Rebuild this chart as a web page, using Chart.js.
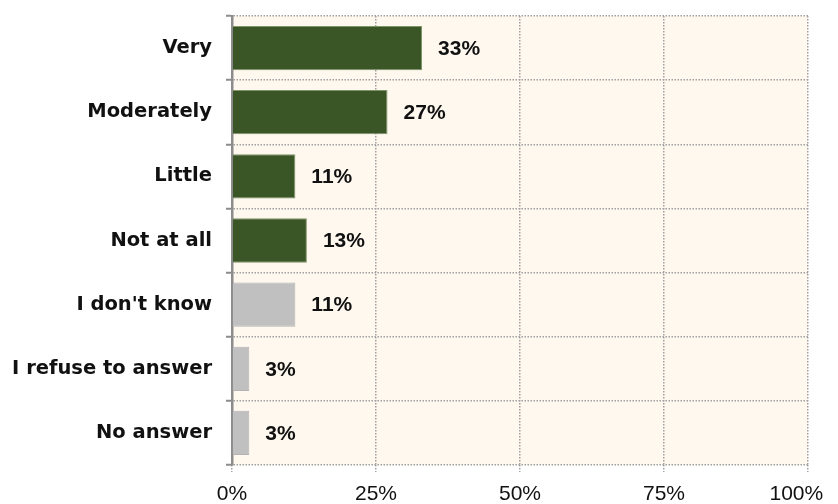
<!DOCTYPE html>
<html>
<head>
<meta charset="utf-8">
<script src="https://cdn.jsdelivr.net/npm/chart.js@4/dist/chart.umd.min.js"></script>
<style>
  html, body { margin: 0; padding: 0; background: #ffffff; }
  #wrap { width: 838px; height: 504px; }
</style>
</head>
<body>
<div id="wrap"><canvas id="c" width="838" height="504"></canvas></div>
<script>
// Survey answers and their shares (percent)
const categories = ['Very', 'Moderately', 'Little', 'Not at all', "I don't know", 'I refuse to answer', 'No answer'];
const shares = [33, 27, 11, 13, 11, 3, 3];
const answered = [true, true, true, true, false, false, false];
const xTicks = [0, 25, 50, 75, 100];

const GREEN = '#3b5626';
const GREEN_EDGE = '#7f9467';
const GREY = '#c0c0c0';
const GREY_EDGE = '#b4b4b4';
const LABEL_FONT = '"DejaVu Sans", "Liberation Sans", sans-serif';
const NUM_FONT = '"Liberation Sans", Arial, sans-serif';

// Cream fill behind the plot area
const plotBackground = {
  id: 'plotBackground',
  beforeDraw(chart) {
    const { ctx, chartArea: a } = chart;
    ctx.save();
    ctx.fillStyle = '#fef8ef';
    ctx.fillRect(a.left, a.top, a.right - a.left, a.bottom - a.top);
    ctx.restore();
  }
};

// Percentage printed just past the end of each bar
const valueLabels = {
  id: 'valueLabels',
  afterDatasetsDraw(chart) {
    const { ctx } = chart;
    const meta = chart.getDatasetMeta(0);
    ctx.save();
    ctx.font = 'bold 21px ' + NUM_FONT;
    ctx.fillStyle = '#111111';
    ctx.textAlign = 'left';
    ctx.textBaseline = 'middle';
    meta.data.forEach((bar, i) => {
      ctx.fillText(shares[i] + '%', bar.x + 16, bar.y + 1);
    });
    ctx.restore();
  }
};

new Chart(document.getElementById('c'), {
  type: 'bar',
  data: {
    labels: categories,
    datasets: [{
      data: shares,
      backgroundColor: answered.map(a => a ? GREEN : GREY),
      borderColor: answered.map(a => a ? GREEN_EDGE : GREY_EDGE),
      borderWidth: 1,
      borderSkipped: 'left',
      categoryPercentage: 1,
      barPercentage: 0.69
    }]
  },
  options: {
    indexAxis: 'y',
    responsive: false,
    animation: false,
    layout: { padding: { top: 16, right: 30, left: 0, bottom: 0 } },
    plugins: {
      legend: { display: false },
      tooltip: { enabled: false }
    },
    scales: {
      x: {
        min: 0,
        max: 100,
        afterBuildTicks(scale) {
          scale.ticks = xTicks.map(v => ({ value: v }));
        },
        afterFit(scale) {
          scale.height = 39;
          scale.paddingRight = 0;
          scale.paddingLeft = 0;
        },
        ticks: {
          // the last label is nudged inward so it stays on the canvas
          callback: v => v === 100 ? v + '%\u2007\u2007' : v + '%',
          color: '#111111',
          font: { family: NUM_FONT, size: 21 },
          padding: 10,
          maxRotation: 0
        },
        grid: {
          color: '#a0a0a0',
          lineWidth: 1.5,
          tickLength: 7,
          tickColor: '#a0a0a0',
          tickBorderDash: [1.5, 1.5]
        },
        border: { display: false, dash: [1.5, 1.5] }
      },
      y: {
        afterFit(scale) {
          scale.width = 232;
          scale.paddingTop = 0;
          scale.paddingBottom = 0;
        },
        ticks: {
          color: '#111111',
          font: { family: LABEL_FONT, size: 19.5, weight: 'bold' },
          padding: 14
        },
        grid: {
          offset: true,
          color: '#a0a0a0',
          lineWidth: 1.5,
          tickLength: 6,
          tickColor: '#8c8c8c',
          tickWidth: 2,
          tickBorderDash: []
        },
        border: { display: true, color: '#8c8c8c', width: 2.5, dash: [1.5, 1.5] }
      }
    }
  },
  plugins: [plotBackground, valueLabels]
});
</script>
</body>
</html>
